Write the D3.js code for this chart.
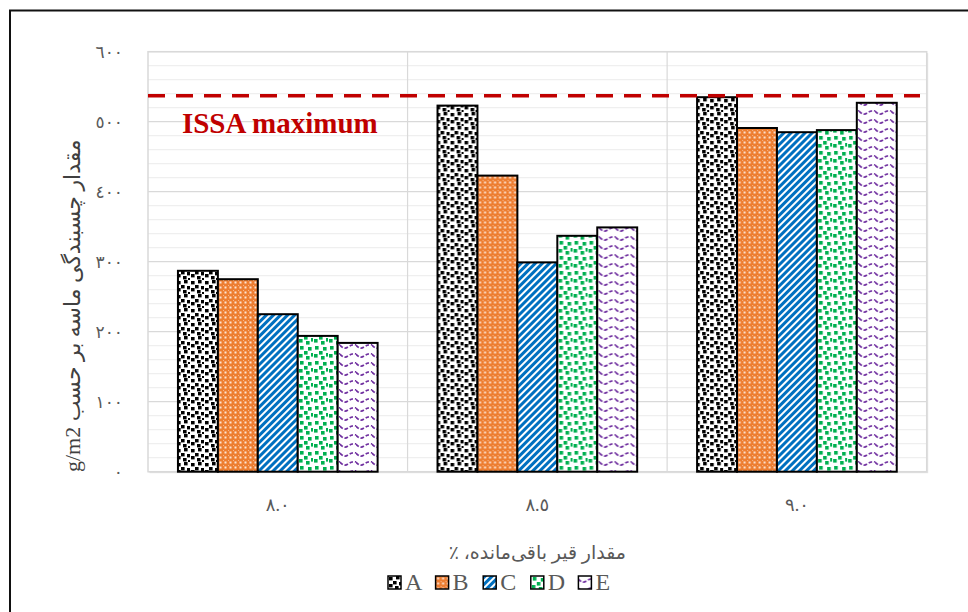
<!DOCTYPE html>
<html>
<head>
<meta charset="utf-8">
<script src="https://cdn.jsdelivr.net/npm/d3@7"></script>
<style>
  body { margin: 0; background: #fff; }
  svg { display: block; }
  text { font-family: "Liberation Serif", "Times New Roman", "DejaVu Sans", serif; }
</style>
</head>
<body>
<div id="chart"></div>
<script>
// Data
const categories = ["٨.٠", "٨.٥", "٩.٠"];
const seriesNames = ["A", "B", "C", "D", "E"];
const valuesA = [287, 523, 535];
const valuesB = [275, 423, 491];
const valuesC = [225, 299, 485];
const valuesD = [194, 337, 488];
const valuesE = [184, 349, 527];
const yTicks = [0, 100, 200, 300, 400, 500, 600];
const yTickLabels = ["٠", "١٠٠", "٢٠٠", "٣٠٠", "٤٠٠", "٥٠٠", "٦٠٠"];
const issaMax = 537;

const series = [valuesA, valuesB, valuesC, valuesD, valuesE];

const W = 968, H = 612;
const plot = { left: 148, top: 51.7, right: 926.7, bottom: 471.7 };

const svg = d3.select("#chart").append("svg")
    .attr("width", W)
    .attr("height", H);

// Patterns
const defs = svg.append("defs");

// A: black confetti on white
const pA = defs.append("pattern").attr("id", "patA")
    .attr("patternUnits", "userSpaceOnUse").attr("width", 14).attr("height", 14);
pA.append("rect").attr("width", 14).attr("height", 14).attr("fill", "#fff");
[[1, 1], [8, 0], [5, 5], [11, 6], [1, 8], [7, 10], [12, 12]].forEach(p => {
    pA.append("rect").attr("x", p[0]).attr("y", p[1]).attr("width", 3.6).attr("height", 3.4).attr("fill", "#000");
});

// B: orange with white dots
const pB = defs.append("pattern").attr("id", "patB")
    .attr("patternUnits", "userSpaceOnUse").attr("width", 5).attr("height", 5);
pB.append("rect").attr("width", 5).attr("height", 5).attr("fill", "#ed7d31");
pB.append("rect").attr("x", 1.5).attr("y", 1.5).attr("width", 2).attr("height", 2).attr("fill", "#fde3d2");
pB.append("rect").attr("x", 0).attr("y", 0).attr("width", 1).attr("height", 1).attr("fill", "#f7b58a");

// C: blue upward diagonal stripes
const pC = defs.append("pattern").attr("id", "patC")
    .attr("patternUnits", "userSpaceOnUse").attr("width", 5).attr("height", 10)
    .attr("patternTransform", "rotate(45)");
pC.append("rect").attr("width", 5).attr("height", 10).attr("fill", "#fff");
pC.append("rect").attr("width", 3).attr("height", 10).attr("fill", "#0070c0");

// D: green confetti on white
const pD = defs.append("pattern").attr("id", "patD")
    .attr("patternUnits", "userSpaceOnUse").attr("width", 15).attr("height", 15);
pD.append("rect").attr("width", 15).attr("height", 15).attr("fill", "#fff");
[[2, 1], [10, 2], [6, 6], [13, 8], [1, 9], [8, 11]].forEach(p => {
    pD.append("rect").attr("x", p[0]).attr("y", p[1]).attr("width", 3.6).attr("height", 3.6).attr("fill", "#00b050");
});

// E: purple dashed waves
const pE = defs.append("pattern").attr("id", "patE")
    .attr("patternUnits", "userSpaceOnUse").attr("width", 16).attr("height", 9);
pE.append("rect").attr("width", 16).attr("height", 9).attr("fill", "#fff");
pE.append("path").attr("d", "M0,3 Q4,8 8,5 T16,3")
    .attr("fill", "none").attr("stroke", "#7030a0").attr("stroke-width", 1.8)
    .attr("stroke-dasharray", "3.5,2");

const fills = ["url(#patA)", "url(#patB)", "url(#patC)", "url(#patD)", "url(#patE)"];

// Outer frame (left and top edges visible)
svg.append("path")
    .attr("d", `M10,${H} L10,10.5 L${W},10.5`)
    .attr("fill", "none").attr("stroke", "#111").attr("stroke-width", 2);

// Scales
const x0 = d3.scaleBand().domain(categories).range([plot.left, plot.right]);
const bw = x0.bandwidth();
const barW = bw / 6.5;
const x1 = d3.scaleBand().domain(seriesNames).range([barW * 0.75, bw - barW * 0.75]);
const y = d3.scaleLinear().domain([0, 600]).range([plot.bottom, plot.top]);

// Plot area shadow + background
svg.append("rect")
    .attr("x", plot.left + 1.5).attr("y", plot.top + 1.5)
    .attr("width", plot.right - plot.left).attr("height", plot.bottom - plot.top)
    .attr("fill", "#e3e3e3");
svg.append("rect")
    .attr("x", plot.left).attr("y", plot.top)
    .attr("width", plot.right - plot.left).attr("height", plot.bottom - plot.top)
    .attr("fill", "#fff");

// Minor gridlines
const minor = d3.range(0, 601, 20).filter(v => v % 100 !== 0);
svg.append("g").selectAll("line").data(minor).enter().append("line")
    .attr("x1", plot.left).attr("x2", plot.right)
    .attr("y1", d => y(d)).attr("y2", d => y(d))
    .attr("stroke", "#efefef").attr("stroke-width", 1.2);

// Major gridlines
svg.append("g").selectAll("line").data(yTicks).enter().append("line")
    .attr("x1", plot.left).attr("x2", plot.right)
    .attr("y1", d => y(d)).attr("y2", d => y(d))
    .attr("stroke", "#d9d9d9").attr("stroke-width", 1.2);

// Vertical category separators
svg.append("g").selectAll("line").data(categories.slice(1)).enter().append("line")
    .attr("x1", d => x0(d)).attr("x2", d => x0(d))
    .attr("y1", plot.top).attr("y2", plot.bottom)
    .attr("stroke", "#d9d9d9").attr("stroke-width", 1.2);

// Plot border
svg.append("rect")
    .attr("x", plot.left).attr("y", plot.top)
    .attr("width", plot.right - plot.left).attr("height", plot.bottom - plot.top)
    .attr("fill", "none").attr("stroke", "#d9d9d9").attr("stroke-width", 1.5);

// Bars
const groups = svg.append("g").selectAll("g").data(categories).enter().append("g")
    .attr("transform", d => `translate(${x0(d)},0)`);
groups.selectAll("rect")
    .data((c, ci) => seriesNames.map((s, si) => ({ s: s, si: si, v: series[si][ci] })))
    .enter().append("rect")
    .attr("x", d => x1(d.s))
    .attr("width", x1.bandwidth())
    .attr("y", d => y(d.v))
    .attr("height", d => y(0) - y(d.v))
    .attr("fill", d => fills[d.si])
    .attr("stroke", "#000")
    .attr("stroke-width", 2);

// ISSA maximum line
svg.append("line")
    .attr("x1", plot.left).attr("x2", 920)
    .attr("y1", y(issaMax)).attr("y2", y(issaMax))
    .attr("stroke", "#c00000").attr("stroke-width", 3.5)
    .attr("stroke-dasharray", "17,11");
svg.append("text")
    .attr("x", x0(categories[0]) + bw / 2 + 2)
    .attr("y", 133)
    .attr("text-anchor", "middle")
    .attr("fill", "#c00000")
    .attr("font-weight", "bold")
    .attr("font-size", 29)
    .text("ISSA maximum");

// Y tick labels
svg.append("g").selectAll("text").data(yTicks).enter().append("text")
    .attr("x", 123)
    .attr("y", d => y(d))
    .attr("dy", "0.35em")
    .attr("text-anchor", "end")
    .attr("fill", "#595959")
    .attr("font-size", 17)
    .text((d, i) => yTickLabels[i]);

// X category labels
svg.append("g").selectAll("text").data(categories).enter().append("text")
    .attr("x", d => x0(d) + bw / 2)
    .attr("y", 505)
    .attr("dy", "0.35em")
    .attr("text-anchor", "middle")
    .attr("fill", "#595959")
    .attr("font-size", 18)
    .text(d => d);

// Y axis title
svg.append("text")
    .attr("transform", `translate(80,${(plot.top + plot.bottom) / 2 + 44}) rotate(-90)`)
    .attr("text-anchor", "middle")
    .attr("direction", "rtl")
    .attr("fill", "#404040")
    .attr("font-size", 22)
    .text("مقدار چسبندگی ماسه بر حسب g/m2");

// X axis title
svg.append("text")
    .attr("x", (plot.left + plot.right) / 2)
    .attr("y", 559)
    .attr("text-anchor", "middle")
    .attr("direction", "rtl")
    .attr("fill", "#595959")
    .attr("font-size", 19)
    .text("مقدار قیر باقی‌مانده، ٪");

// Legend
const legend = svg.append("g").attr("transform", "translate(388,576)");
const items = legend.selectAll("g").data(seriesNames).enter().append("g")
    .attr("transform", (d, i) => `translate(${i * 47.6},0)`);
items.append("rect")
    .attr("width", 13).attr("height", 13)
    .attr("fill", (d, i) => fills[i])
    .attr("stroke", "#000").attr("stroke-width", 1.5);
items.append("text")
    .attr("x", 17)
    .attr("y", 14)
    .attr("fill", "#595959")
    .attr("font-size", 24)
    .text(d => d);
</script>
</body>
</html>
